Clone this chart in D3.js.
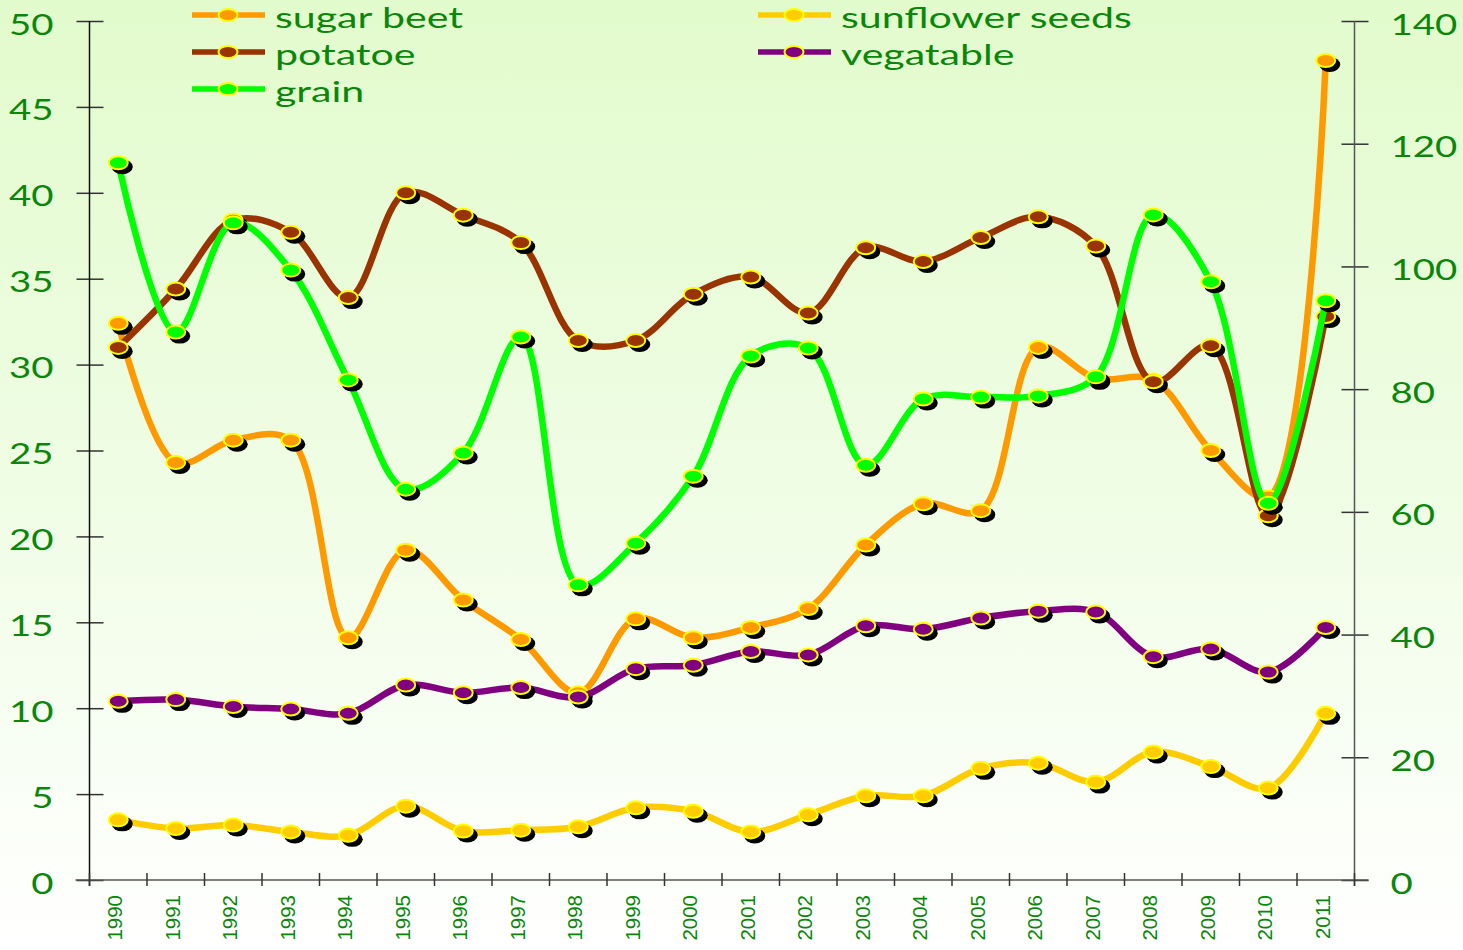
<!DOCTYPE html>
<html>
<head>
<meta charset="utf-8">
<script src="https://cdn.jsdelivr.net/npm/d3@7"></script>
<style>
  html, body { margin: 0; padding: 0; background: #ffffff; }
  svg { display: block; }
</style>
</head>
<body>
<div id="chart"></div>
<script>
// Production data (million tonnes)
const years = ['1990', '1991', '1992', '1993', '1994', '1995', '1996', '1997', '1998', '1999', '2000',
    '2001', '2002', '2003', '2004', '2005', '2006', '2007', '2008', '2009', '2010', '2011'];

const sugarBeet = [32.4, 24.3, 25.6, 25.6, 14.1, 19.2, 16.3, 14.0, 10.9, 15.2, 14.1,
    14.7, 15.8, 19.5, 21.9, 21.5, 31.0, 29.2, 29.1, 25.0, 22.3, 47.7];
const potatoe = [31.0, 34.4, 38.4, 37.7, 33.9, 40.0, 38.7, 37.1, 31.4, 31.4, 34.1,
    35.1, 33.0, 36.8, 36.0, 37.4, 38.6, 36.9, 29.0, 31.1, 21.2, 32.8];
const sunflowerSeeds = [3.5, 3.0, 3.2, 2.8, 2.6, 4.3, 2.85, 2.9, 3.1, 4.2, 4.0,
    2.8, 3.8, 4.9, 4.9, 6.5, 6.8, 5.7, 7.45, 6.6, 5.35, 9.7];
const vegatable = [10.4, 10.5, 10.1, 9.95, 9.7, 11.35, 10.9, 11.2, 10.65, 12.3, 12.5,
    13.3, 13.1, 14.8, 14.6, 15.25, 15.65, 15.6, 13.0, 13.45, 12.1, 14.7];
// grain is plotted on the right-hand axis
const grain = [116.9, 89.3, 107.1, 99.4, 81.5, 63.7, 69.6, 88.5, 48.1, 54.9, 65.8,
    85.4, 86.7, 67.6, 78.4, 78.7, 78.9, 82.0, 108.4, 97.5, 61.4, 94.4];

const leftTicks = [0, 5, 10, 15, 20, 25, 30, 35, 40, 45, 50];
const rightTicks = [0, 20, 40, 60, 80, 100, 120, 140];

const series = [
    { name: 'sugar beet', values: sugarBeet, color: '#ff9900', axis: 'left' },
    { name: 'potatoe', values: potatoe, color: '#993300', axis: 'left' },
    { name: 'sunflower seeds', values: sunflowerSeeds, color: '#ffcc00', axis: 'left' },
    { name: 'vegatable', values: vegatable, color: '#800080', axis: 'left' },
    { name: 'grain', values: grain, color: '#00ff00', axis: 'right' }
];

// legend order follows the reference: two columns, row by row
const legendOrder = ['sugar beet', 'sunflower seeds', 'potatoe', 'vegatable', 'grain'];

const width = 1463;
const height = 950;
const textColor = '#0a870a';
const stretch = 1.37;   // the reference is drawn horizontally stretched

const svg = d3.select('#chart')
    .append('svg')
    .attr('width', width)
    .attr('height', height);

// Background gradient
const grad = svg.append('defs').append('linearGradient')
    .attr('id', 'bg')
    .attr('x1', 0).attr('y1', 0).attr('x2', 0).attr('y2', 1);
grad.append('stop').attr('offset', '0%').attr('stop-color', '#e2fbcc');
grad.append('stop').attr('offset', '50%').attr('stop-color', '#effde4');
grad.append('stop').attr('offset', '100%').attr('stop-color', '#ffffff');

svg.append('rect')
    .attr('width', width)
    .attr('height', height)
    .attr('fill', 'url(#bg)');

const plot = { left: 89.5, right: 1354.5, top: 21, bottom: 880 };

const x = d3.scaleBand()
    .domain(years)
    .range([plot.left, plot.right])
    .padding(0);

const yLeft = d3.scaleLinear().domain([0, 50]).range([plot.bottom, plot.top]);
const yRight = d3.scaleLinear().domain([0, 140]).range([plot.bottom, plot.top]);

// Axes
const axisColor = '#333333';

const leftAxis = svg.append('g')
    .attr('transform', `translate(${plot.left},0)`)
    .call(d3.axisLeft(yLeft).tickValues(leftTicks).tickSize(13).tickSizeOuter(0));

const rightAxis = svg.append('g')
    .attr('transform', `translate(${plot.right},0)`)
    .call(d3.axisRight(yRight).tickValues(rightTicks).tickSize(13).tickSizeOuter(0));

[leftAxis, rightAxis].forEach((ax, i) => {
    ax.select('.domain').remove();
    ax.selectAll('.tick line')
        .attr('x1', -13).attr('x2', 14)
        .attr('stroke', axisColor)
        .attr('stroke-width', 1.5);
    ax.selectAll('.tick text')
        .attr('x', 0)
        .attr('dy', '0.36em')
        .attr('text-anchor', i === 0 ? 'end' : 'start')
        .attr('transform', `translate(${i === 0 ? -36 : 36},3) scale(${stretch},1)`)
        .attr('fill', textColor)
        .style('font-family', 'Lato, "Open Sans", sans-serif')
        .style('font-size', '28px');
    ax.append('line')
        .attr('y1', plot.top).attr('y2', plot.bottom + 6)
        .attr('stroke', i === 0 ? '#111' : '#555')
        .attr('stroke-width', 1.5);
});

// x axis: line, ticks at category boundaries, rotated year labels
const xAxis = svg.append('g');
xAxis.append('line')
    .attr('x1', plot.left - 14).attr('x2', plot.right + 14)
    .attr('y1', plot.bottom).attr('y2', plot.bottom)
    .attr('stroke', '#555')
    .attr('stroke-width', 1.5);

const boundaries = years.map(y => x(y)).concat([x.range()[1]]);
xAxis.selectAll('line.xtick')
    .data(boundaries)
    .join('line')
    .attr('class', 'xtick')
    .attr('x1', d => d).attr('x2', d => d)
    .attr('y1', plot.bottom - 7).attr('y2', plot.bottom + 6)
    .attr('stroke', axisColor)
    .attr('stroke-width', 1.5);

xAxis.selectAll('text')
    .data(years)
    .join('text')
    .attr('transform', d => `translate(${x(d) + x.bandwidth() / 2 - 3.5},${plot.bottom + 15}) rotate(-90)`)
    .attr('text-anchor', 'end')
    .attr('dy', '0.36em')
    .attr('fill', textColor)
    .style('font-family', '"Liberation Sans", Arial, sans-serif')
    .style('font-size', '20.5px')
    .text(d => d);

// Lines and markers
const cx = (i) => x(years[i]) + x.bandwidth() / 2;

series.forEach(s => {
    const yScale = s.axis === 'left' ? yLeft : yRight;
    const line = d3.line()
        .x((d, i) => cx(i))
        .y(d => yScale(d))
        .curve(d3.curveCatmullRom.alpha(0.5));

    const g = svg.append('g').attr('class', 'series');

    g.append('path')
        .datum(s.values)
        .attr('d', line)
        .attr('fill', 'none')
        .attr('stroke', s.color)
        .attr('stroke-width', 6.5)
        .attr('stroke-linejoin', 'round')
        .attr('stroke-linecap', 'round');

    // marker shadows
    g.selectAll('ellipse.shadow')
        .data(s.values)
        .join('ellipse')
        .attr('class', 'shadow')
        .attr('cx', (d, i) => cx(i) + 4)
        .attr('cy', d => yScale(d) + 4)
        .attr('rx', 10.5)
        .attr('ry', 7.5)
        .attr('fill', '#000');

    g.selectAll('ellipse.marker')
        .data(s.values)
        .join('ellipse')
        .attr('class', 'marker')
        .attr('cx', (d, i) => cx(i))
        .attr('cy', d => yScale(d))
        .attr('rx', 9.5)
        .attr('ry', 6.5)
        .attr('fill', s.color)
        .attr('stroke', '#ffff00')
        .attr('stroke-width', 2);
});

// Legend
const legend = svg.append('g').attr('class', 'legend');
const colX = [192, 758];
const rowY = [15, 52, 89];

legendOrder.forEach((name, k) => {
    const s = series.find(d => d.name === name);
    const lx = colX[k % 2];
    const ly = rowY[Math.floor(k / 2)];
    const item = legend.append('g').attr('transform', `translate(${lx},${ly})`);

    item.append('line')
        .attr('x1', 0).attr('x2', 73)
        .attr('y1', 0).attr('y2', 0)
        .attr('stroke', s.color)
        .attr('stroke-width', 5.5);

    item.append('ellipse')
        .attr('cx', 36).attr('cy', 0)
        .attr('rx', 9.5).attr('ry', 6)
        .attr('fill', s.color)
        .attr('stroke', '#ffff00')
        .attr('stroke-width', 2);

    item.append('text')
        .attr('transform', `translate(83,13) scale(${stretch * 30 / 28.5},1)`)
        .attr('fill', textColor)
        .style('font-family', 'Lato, "Open Sans", sans-serif')
        .style('font-size', '28.5px')
        .text(s.name);
});
</script>
</body>
</html>
